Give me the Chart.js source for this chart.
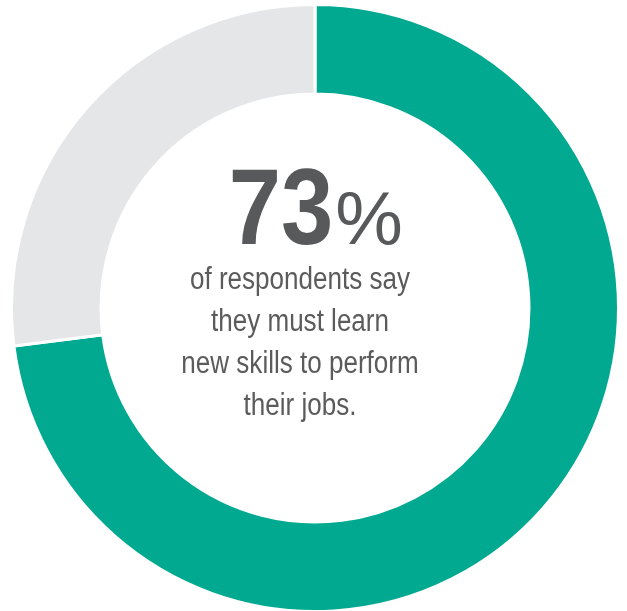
<!DOCTYPE html>
<html>
<head>
<meta charset="utf-8">
<script src="https://cdn.jsdelivr.net/npm/chart.js@4"></script>
<style>
  html, body { margin: 0; padding: 0; background: #fff; }
  body { width: 627px; height: 611px; position: relative; overflow: hidden; }
  #wrap { position: absolute; left: 10px; top: 3px; width: 610px; height: 610px; }
  .t { position: absolute; white-space: nowrap; color: #58595b; font-family: "Liberation Sans", Arial, sans-serif; }
  #big { left: 315px; top: 144px; transform: translateX(-50%); }
  #big .n { display: inline-block; font-weight: bold; font-size: 108px; transform: scaleX(0.87); transform-origin: right center; margin-left: -14px; }
  #big .p { font-size: 76px; margin-left: 2px; }
  .body { left: 0; width: 600px; text-align: center; font-size: 31px; line-height: 42px; color: #5b5b5b; transform: scaleX(0.84); transform-origin: 300px 0; }
</style>
</head>
<body>
<div id="wrap"><canvas id="c"></canvas></div>
<div class="t" id="big"><span class="n">73</span><span class="p">%</span></div>
<div class="t body" style="top:258px">of respondents say</div>
<div class="t body" style="top:300px">they must learn</div>
<div class="t body" style="top:342px">new skills to perform</div>
<div class="t body" style="top:384px">their jobs.</div>
<script>
const categories = ["Must learn new skills", "Other"];
const values = [73, 27];
const colors = ["#00a98f", "#e5e6e8"];

new Chart(document.getElementById('c'), {
  type: 'doughnut',
  data: {
    labels: categories,
    datasets: [{
      data: values,
      backgroundColor: colors,
      borderColor: '#ffffff',
      borderWidth: 3,
      hoverOffset: 0
    }]
  },
  options: {
    responsive: true,
    maintainAspectRatio: false,
    animation: false,
    cutout: '70.5%',
    rotation: 0,
    layout: { padding: 0 },
    plugins: { legend: { display: false }, tooltip: { enabled: false } }
  }
});
</script>
</body>
</html>
